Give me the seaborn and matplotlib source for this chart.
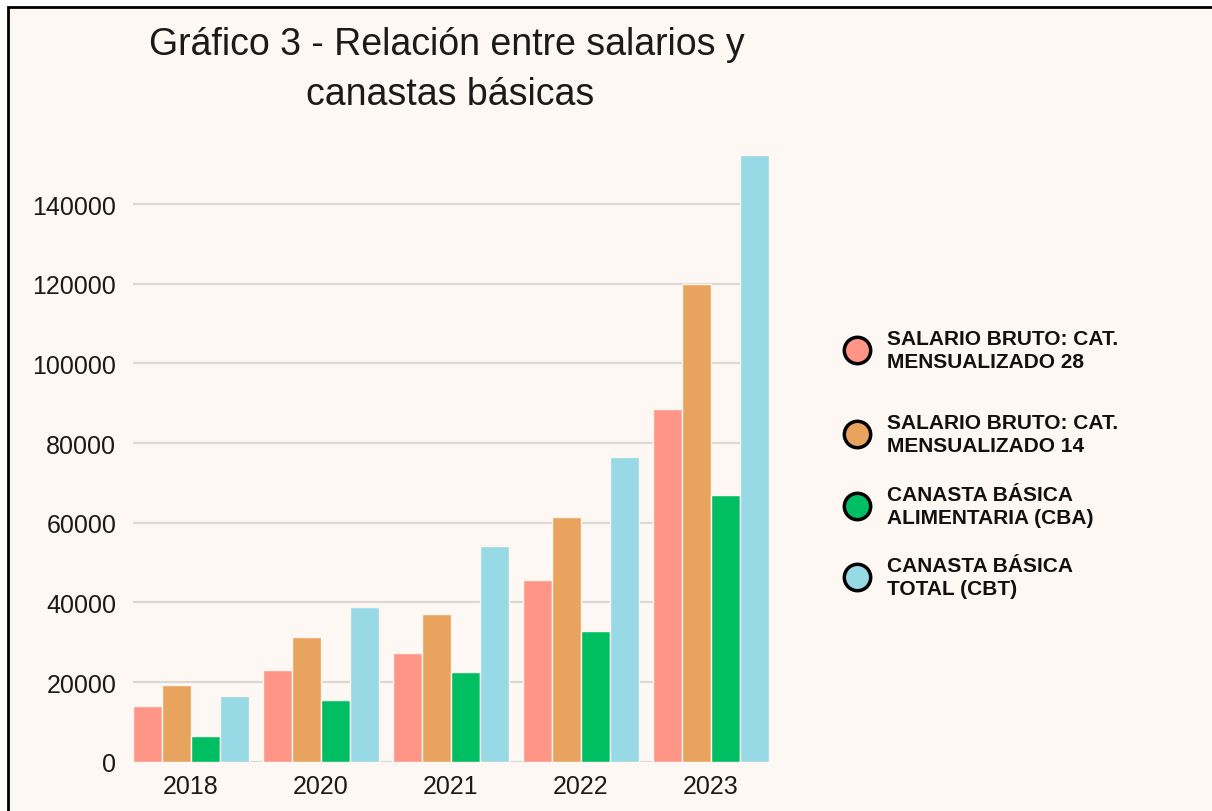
import pandas as pd
import matplotlib.pyplot as plt
import seaborn as sns
from matplotlib.patches import Rectangle
from matplotlib.lines import Line2D

# data
years = ['2018', '2020', '2021', '2022', '2023']
series = ['SALARIO BRUTO: CAT.\nMENSUALIZADO 28',
          'SALARIO BRUTO: CAT.\nMENSUALIZADO 14',
          'CANASTA BÁSICA\nALIMENTARIA (CBA)',
          'CANASTA BÁSICA\nTOTAL (CBT)']
salario_28 = [14000, 23100, 27300, 45500, 88500]
salario_14 = [19200, 31400, 37200, 61400, 120000]
cba = [6400, 15500, 22600, 32900, 67000]
cbt = [16500, 38900, 54100, 76400, 152400]
colors = ['#FF9586', '#E8A35F', '#00BF63', '#97DAE6']

bg = '#FDF8F3'

df = pd.DataFrame({
    'year': years * 4,
    'serie': [s for s in series for _ in years],
    'valor': salario_28 + salario_14 + cba + cbt,
})

sns.set_theme(style='white')
plt.rcParams['font.family'] = ['Liberation Sans', 'DejaVu Sans']

fig = plt.figure(figsize=(12.12, 8.12), dpi=100, facecolor='white')
# cream page with the black frame on the top and left
fig.patches.append(Rectangle((8 / 1212, -0.2), 1.5, (812 - 8) / 812 + 0.2,
                             transform=fig.transFigure, facecolor=bg,
                             edgecolor='black', linewidth=2, zorder=-10))

ax = fig.add_axes([133 / 1212, 49.3 / 812, 636 / 1212, 617.4 / 812])
ax.set_facecolor('none')

sns.barplot(data=df, x='year', y='valor', hue='serie', palette=colors,
            width=0.89, edgecolor='#FFF4EE', linewidth=1, saturation=1,
            legend=False, ax=ax)

ax.set_xlim(-0.445, 4.445)
ax.set_ylim(0, 155000)
ax.set_yticks(range(0, 140001, 20000))
ax.yaxis.grid(True, color='#DCD8D3', linewidth=1.6)
ax.set_axisbelow(True)
sns.despine(ax=ax, left=True, bottom=True)
ax.set_xlabel('')
ax.set_ylabel('')
ax.tick_params(axis='y', length=0, pad=12, labelsize=18, labelcolor='#1a1a1a')
ax.tick_params(axis='x', length=0, pad=9, labelsize=18, labelcolor='#1a1a1a')

fig.text(447 / 1212, 1 - 45 / 812, 'Gráfico 3 - Relación entre salarios y',
         ha='center', va='center', fontsize=27, color='#1a1a1a')
fig.text(450 / 1212, 1 - 95 / 812, 'canastas básicas',
         ha='center', va='center', fontsize=27, color='#1a1a1a')

# legend drawn by hand to keep the original spacing
legend_y = [351, 435, 507, 578]
for name, c, y in zip(series, colors, legend_y):
    fig.add_artist(Line2D([857 / 1212], [1 - y / 812], marker='o', markersize=19,
                          markerfacecolor=c, markeredgecolor='black',
                          markeredgewidth=2.5, transform=fig.transFigure))
    fig.text(887 / 1212, 1 - y / 812, name, ha='left', va='center',
             fontsize=15, fontweight='bold', color='#111111', linespacing=1.25)

fig.savefig('out.png', dpi=100, facecolor=fig.get_facecolor())
